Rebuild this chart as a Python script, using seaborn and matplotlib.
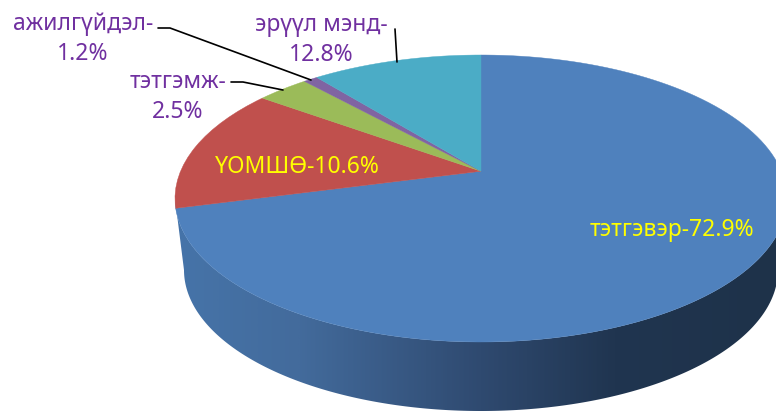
import numpy as np
import matplotlib
matplotlib.use('Agg')

import matplotlib.pyplot as plt
import seaborn as sns
from matplotlib.colors import LinearSegmentedColormap
from matplotlib.patches import Polygon
from matplotlib.transforms import Affine2D

# ===== DATA =====
# slice shares as measured from the drawn slices (the typed labels differ a bit)
slice_shares = [70.9, 14.1, 3.3, 0.9, 10.8]
slice_colors = ["#4F81BD", "#C0504D", "#9BBB59", "#8064A2", "#4BACC6"]
yellow_labels = ["тэтгэвэр-72.9%", "ҮОМШӨ-10.6%"]
purple_labels = ["ажилгүйдэл-\n1.2%", "тэтгэмж-\n2.5%", "эрүүл мэнд-\n12.8%"]

# ===== STYLE =====
sns.set_theme(style="white")
plt.rcParams['font.family'] = ['Noto Sans', 'DejaVu Sans']

# top face ellipse in pixels, a = perspective shift of the pie centre
cx, cy, rx, ry = 481, 198.5, 306, 143.5
a = 0.19
# bottom outline ellipse
bx, by, brx, bry = 481, 270, 297, 141


def project(xy):
    den = 1 + a * xy[:, 1]
    px = xy[:, 0] * np.sqrt(1 - a ** 2) / den
    py = (xy[:, 1] + a) / den
    return np.column_stack([cx + rx * px, cy - ry * py])


fig = plt.figure(figsize=(7.76, 4.12), dpi=100)
ax = fig.add_axes([0, 0, 1, 1])

# ===== TOP FACE =====
wedges, _ = ax.pie(slice_shares, colors=sns.color_palette(slice_colors),
                   startangle=90, counterclock=False)
scale = Affine2D().scale(400)
for w in wedges:
    poly = w.get_path().to_polygons(scale)[0] / 400
    ax.add_patch(Polygon(project(poly), closed=True, facecolor=w.get_facecolor(),
                         edgecolor=w.get_facecolor(), lw=0.3, zorder=3))
    w.remove()

# ===== SIDE WALL =====
t = np.linspace(np.pi, 2 * np.pi, 300)
top_edge = np.column_stack([cx + rx * np.cos(t), cy - ry * np.sin(t)])
bot_edge = np.column_stack([bx + brx * np.cos(t), by - bry * np.sin(t)])[::-1]
side = Polygon(np.vstack([top_edge, bot_edge]), closed=True, facecolor="none",
               edgecolor="none", transform=ax.transData)
ax.add_patch(side)

side_cmap = LinearSegmentedColormap.from_list("side", [
    (0.0, "#4674A9"), (0.2, "#436B9C"), (0.5, "#2F4A70"), (0.72, "#203550"), (1.0, "#1E3249")])
img = ax.imshow(np.linspace(0, 1, 400)[None, :], cmap=side_cmap, aspect="auto",
                extent=(175, 787, 412, 190), zorder=1)
img.set_clip_path(side)

ax.set_aspect("auto")
ax.set_xlim(0, 776)
ax.set_ylim(412, 0)
ax.axis("off")

# ===== LEADER LINES =====
ax.plot([158, 170, 311], [28, 28, 80], color="black", lw=1.2, zorder=4)
ax.plot([231, 243, 283], [82, 82, 90], color="black", lw=1.2, zorder=4)
ax.plot([395, 397], [29, 62], color="black", lw=1.2, zorder=4)

# ===== LABELS =====
ax.text(672, 230, yellow_labels[0], color="#FFFF00", fontsize=16.5, ha="center", va="center", zorder=5)
ax.text(297, 167, yellow_labels[1], color="#FFFF00", fontsize=16.5, ha="center", va="center", zorder=5)
for txt, x, y in zip(purple_labels, [83, 178, 321], [39, 97, 40]):
    ax.text(x, y, txt, color="#7030A0", fontsize=16.5, ha="center", va="center",
            linespacing=1.3, zorder=5)

fig.savefig("out.png", dpi=100)
plt.close(fig)
